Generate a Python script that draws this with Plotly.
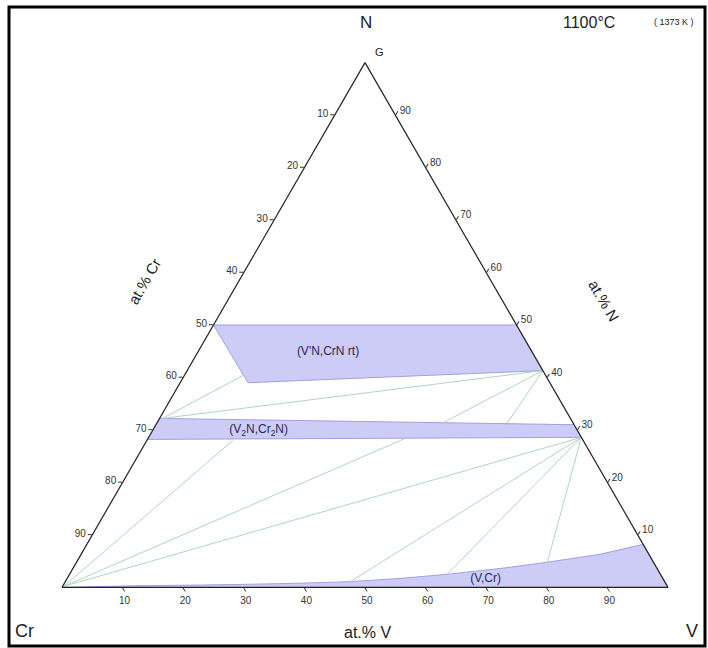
import plotly.graph_objects as go

# ---- data (ternary coordinates in at.%: N = top, Cr = bottom-left, V = bottom-right) ----
TICK_VALUES = [10, 20, 30, 40, 50, 60, 70, 80, 90]
TICK_LABELS = ["90", "80", "70", "60", "50", "40", "30", "20", "10"]

# (V'N,CrN rt) single-phase field
REGION1_N = [50.0, 50.0, 41.3, 39.0, 50.0]
REGION1_CR = [50.0, 0.0, 0.0, 49.8, 50.0]
REGION1_V = [0.0, 50.0, 58.7, 11.2, 0.0]

# (V2N,Cr2N) single-phase field
REGION2_N = [32.2, 31.0, 28.6, 28.2, 32.2]
REGION2_CR = [67.8, 0.0, 0.0, 71.8, 67.8]
REGION2_V = [0.0, 69.0, 71.4, 0.0, 0.0]

# (V,Cr) single-phase field
REGION3_N = [0.0, 0.0, 8.2, 6.3, 4.8, 3.6, 2.5, 1.7, 1.1, 0.8, 0.6, 0.45, 0.3, 0.0]
REGION3_V = [0.0, 100.0, 91.8, 85.6, 77.7, 70.5, 62.3, 54.9, 47.0, 38.9, 30.8, 22.6, 11.2, 0.0]
REGION3_CR = [100 - n - v for n, v in zip(REGION3_N, REGION3_V)]

# tie lines: (start N, Cr, V) -> (end N, Cr, V)
TIE_START_N = [40.4, 32.2, 41.3, 41.3, 0.2, 0.2, 0.2, 28.6, 28.6, 28.6]
TIE_START_CR = [49.9, 67.3, 0.0, 0.0, 99.6, 99.6, 99.6, 0.0, 0.0, 0.0]
TIE_START_V = [9.7, 0.5, 58.7, 58.7, 0.2, 0.2, 0.2, 71.4, 71.4, 71.4]
TIE_END_N = [32.2, 41.3, 31.4, 31.2, 28.0, 28.5, 28.6, 1.1, 2.5, 4.8]
TIE_END_CR = [67.3, 0.0, 21.4, 11.0, 57.8, 28.9, 0.0, 51.9, 35.2, 17.5]
TIE_END_V = [0.5, 58.7, 47.2, 57.8, 14.2, 42.6, 71.4, 47.0, 62.3, 77.7]

PHASE_LABELS = ["(V'N,CrN rt)", "(V<sub>2</sub>N,Cr<sub>2</sub>N)", "(V,Cr)"]
PHASE_LABEL_N = [44.8, 29.9, 1.6]
PHASE_LABEL_CR = [33.7, 52.6, 29.3]
PHASE_LABEL_V = [21.5, 17.5, 69.1]

FILL = "rgb(204,204,247)"
EDGE = "rgb(160,160,225)"
TIE = "rgb(175,215,190)"
FONT = "Liberation Sans, Arial, sans-serif"

fig = go.Figure()

for a, b, c in [(REGION1_N, REGION1_CR, REGION1_V),
                (REGION2_N, REGION2_CR, REGION2_V),
                (REGION3_N, REGION3_CR, REGION3_V)]:
    fig.add_trace(go.Scatterternary(
        a=a, b=b, c=c, mode="lines", fill="toself", fillcolor=FILL,
        line=dict(color=EDGE, width=1), hoverinfo="skip", showlegend=False))

for i in range(len(TIE_START_N)):
    fig.add_trace(go.Scatterternary(
        a=[TIE_START_N[i], TIE_END_N[i]],
        b=[TIE_START_CR[i], TIE_END_CR[i]],
        c=[TIE_START_V[i], TIE_END_V[i]],
        mode="lines", line=dict(color=TIE, width=1),
        hoverinfo="skip", showlegend=False))

fig.add_trace(go.Scatterternary(
    a=PHASE_LABEL_N, b=PHASE_LABEL_CR, c=PHASE_LABEL_V,
    mode="text", text=PHASE_LABELS,
    textfont=dict(family=FONT, size=12, color="rgb(40,40,90)"),
    hoverinfo="skip", showlegend=False))

axis_common = dict(
    tickmode="array", tickvals=TICK_VALUES, ticktext=TICK_LABELS,
    ticks="outside", ticklen=4, tickcolor="#333", tickwidth=1,
    tickfont=dict(family=FONT, size=10, color="#333"),
    showgrid=False, showline=True, linecolor="#222", linewidth=1.2,
    min=0, title=dict(text=""),
)

fig.update_layout(
    template="none",
    width=708, height=648,
    margin=dict(l=0, r=0, t=0, b=0),
    paper_bgcolor="white",
    ternary=dict(
        sum=100,
        bgcolor="white",
        domain=dict(x=[62 / 708, 668 / 708], y=[60 / 648, 586 / 648]),
        aaxis=axis_common,
        baxis=axis_common,
        caxis=axis_common,
    ),
    showlegend=False,
)

def ann(text, x, y, size, angle=0, xanchor="center"):
    fig.add_annotation(text=text, x=x / 708, y=1 - y / 648, xref="paper", yref="paper",
                       showarrow=False, textangle=angle, xanchor=xanchor, yanchor="middle",
                       font=dict(family=FONT, size=size, color="#222"))

ann("N", 366, 22, 17)
ann("Cr", 13, 631, 18, xanchor="left")
ann("V", 692, 631, 18)
ann("at.% V", 367, 632, 16)
ann("at.% Cr", 144, 281, 15, angle=-60)
ann("at.% N", 604, 300, 15, angle=60)
ann("G", 379, 52, 11)
ann("1100°C", 589, 22, 16)
ann("( 1373 K )", 674, 22, 9)

fig.add_shape(type="rect", xref="paper", yref="paper",
              x0=9 / 708, x1=705 / 708, y0=1 - 646 / 648, y1=1 - 7 / 648,
              line=dict(color="black", width=3))

fig.write_html("out.html", config={"displayModeBar": False},
               post_script="document.body.style.margin='0px';")
